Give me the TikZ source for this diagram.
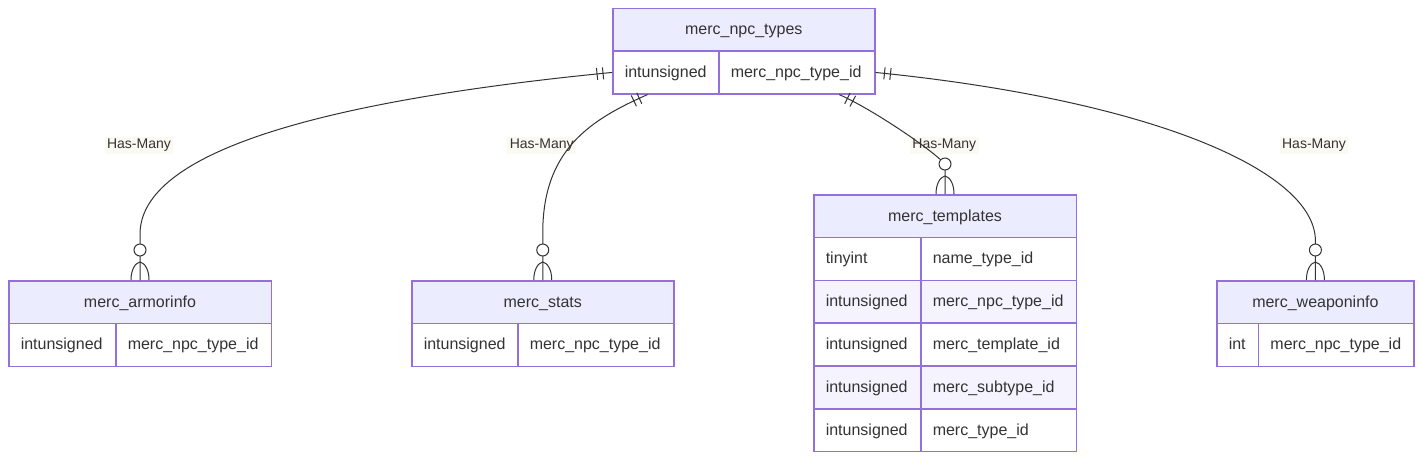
\documentclass[tikz,border=0pt]{standalone}
\usepackage{fontspec}
\setmainfont{Liberation Sans}
\usetikzlibrary{calc,decorations.markings}
\definecolor{erborder}{HTML}{9370DB}
\definecolor{erhead}{HTML}{ECECFF}
\definecolor{eroddrow}{HTML}{FFFFFF}
\definecolor{erevenrow}{HTML}{F4F3FE}
\definecolor{ertext}{HTML}{333333}
\definecolor{erline}{HTML}{333333}
\definecolor{erlabelbg}{HTML}{FAFAF2}
\newcommand\ercell[2]{\hbox to #1{#2\hss}}
\newcommand\erzeromany[1]{%
  \draw[relline, fill=white] ($(#1)+(0,-30)$) circle[radius=6pt];
  \draw[relline] ($(#1)+(-9,0)$) .. controls ($(#1)+(-9,-10)$) and ($(#1)+(-5,-17)$) .. ($(#1)+(0,-18)$)
     .. controls ($(#1)+(5,-17)$) and ($(#1)+(9,-10)$) .. ($(#1)+(9,0)$);
}
\tikzset{
  entityhead/.style={draw=erborder, line width=1.5pt, fill=erhead, minimum width=#1, minimum height=42.8pt,
    inner sep=0pt, anchor=north west, text=ertext, font=\fontsize{16}{19}\selectfont, text height=12.5pt, text depth=2.5pt},
  attrcell/.style={draw=erborder, line width=1.5pt, fill=eroddrow, inner xsep=12pt, inner ysep=0pt,
    minimum height=42.8pt, anchor=north west, text=ertext, font=\fontsize{16}{19}\selectfont,
    text height=12.5pt, text depth=2.5pt},
  evenrow/.style={fill=erevenrow},
  rellabel/.style={fill=erlabelbg, text=ertext, font=\fontsize{14}{17}\selectfont, inner xsep=2.5pt,
    inner ysep=2pt, text height=10pt, text depth=3pt},
  relline/.style={draw=erline, line width=1pt},
  onlyone/.style={postaction={decorate, decoration={markings,
    mark=at position 9pt with {\draw[erline, line width=1pt] (0pt,-6pt)--(0pt,6pt);},
    mark=at position 15pt with {\draw[erline, line width=1pt] (0pt,-6pt)--(0pt,6pt);}}}}
}
\begin{document}
\begin{tikzpicture}[x=1pt,y=-1pt]
\useasboundingbox[fill=white] (0,0) rectangle (1421,459);

% merc_npc_types
\node[entityhead=262pt] (th) at (612,7.5) {merc\_npc\_types};
\node[attrcell] (ta1) at (612,50.3) {\ercell{82pt}{intunsigned}};
\node[attrcell] (tb1) at (718,50.3) {\ercell{132pt}{merc\_npc\_type\_id}};

% merc_armorinfo
\node[entityhead=262.5pt] (ah) at (8,280) {merc\_armorinfo};
\node[attrcell] (aa1) at (8,322.8) {\ercell{83pt}{intunsigned}};
\node[attrcell] (ab1) at (115,322.8) {\ercell{131.5pt}{merc\_npc\_type\_id}};

% merc_stats
\node[entityhead=262pt] (sh) at (411,280) {merc\_stats};
\node[attrcell] (sa1) at (411,322.8) {\ercell{82pt}{intunsigned}};
\node[attrcell] (sb1) at (517,322.8) {\ercell{132pt}{merc\_npc\_type\_id}};

% merc_templates
\node[entityhead=262.5pt] (mh) at (813,194) {merc\_templates};
\node[attrcell] (ma1) at (813,236.8) {\ercell{83pt}{tinyint}};
\node[attrcell] (mb1) at (920,236.8) {\ercell{131.5pt}{name\_type\_id}};
\node[attrcell, evenrow] (ma2) at (813,279.6) {\ercell{83pt}{intunsigned}};
\node[attrcell, evenrow] (mb2) at (920,279.6) {\ercell{131.5pt}{merc\_npc\_type\_id}};
\node[attrcell] (ma3) at (813,322.4) {\ercell{83pt}{intunsigned}};
\node[attrcell] (mb3) at (920,322.4) {\ercell{131.5pt}{merc\_template\_id}};
\node[attrcell, evenrow] (ma4) at (813,365.2) {\ercell{83pt}{intunsigned}};
\node[attrcell, evenrow] (mb4) at (920,365.2) {\ercell{131.5pt}{merc\_subtype\_id}};
\node[attrcell] (ma5) at (813,408) {\ercell{83pt}{intunsigned}};
\node[attrcell] (mb5) at (920,408) {\ercell{131.5pt}{merc\_type\_id}};

% merc_weaponinfo
\node[entityhead=197.3pt] (wh) at (1216,280) {merc\_weaponinfo};
\node[attrcell] (wa1) at (1216,322.8) {\ercell{17.7pt}{int}};
\node[attrcell] (wb1) at (1257.7,322.8) {\ercell{131.6pt}{merc\_npc\_type\_id}};

% relationship labels
\node[rellabel] (l1) at (139,145) {Has-Many};
\node[rellabel] (l2) at (541.7,145) {Has-Many};
\node[rellabel] (l3) at (944.3,145) {Has-Many};
\node[rellabel] (l4) at (1314,145) {Has-Many};

% relationships
\draw[relline, onlyone] (ta1.west) .. controls (330,100) and (139,150) .. ($(ah.north)+(0,-45)$) -- (ah.north);
\draw[relline, onlyone] ($(ta1.south west)!0.33!(ta1.south east)$) .. controls (590,120) and (542,150) .. ($(sh.north)+(0,-45)$) -- (sh.north);
\draw[relline, onlyone] ($(tb1.south west)!0.77!(tb1.south east)$) .. controls (870,108) and (930,148) .. ($(mh.north)+(0,-30)$) -- (mh.north);
\draw[relline, onlyone] (tb1.east) .. controls (1150,100) and (1314,170) .. ($(wh.north)+(0,-40)$) -- (wh.north);

\erzeromany{ah.north}
\erzeromany{sh.north}
\erzeromany{mh.north}
\erzeromany{wh.north}
\end{tikzpicture}
\end{document}
